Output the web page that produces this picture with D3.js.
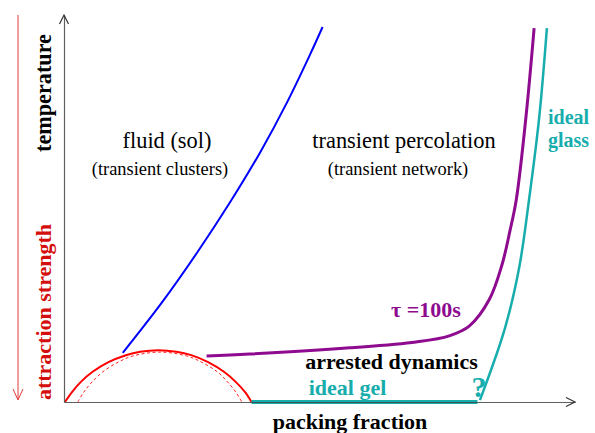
<!DOCTYPE html>
<html>
<head>
<meta charset="utf-8">
<script src="https://cdn.jsdelivr.net/npm/d3@7"></script>
<style>
  html, body { margin: 0; padding: 0; background: #fff; }
</style>
</head>
<body>
<div id="chart"></div>
<script>
// packing fraction (0..1 of the axis) vs temperature (0..1 of the axis)
const solBoundary = [[0.115, 0.127], [0.191, 0.256], [0.260, 0.385], [0.324, 0.514], [0.383, 0.643],
  [0.436, 0.773], [0.483, 0.902], [0.506, 0.969]]
const tau100 = [[0.279, 0.119], [0.363, 0.124], [0.559, 0.140], [0.689, 0.155], [0.754, 0.171], [0.793, 0.196],
  [0.832, 0.264], [0.857, 0.354], [0.873, 0.444], [0.885, 0.522], [0.904, 0.736], [0.920, 0.966]]
const idealGlass = [[0.814, 0.005], [0.863, 0.191], [0.891, 0.349], [0.910, 0.522], [0.930, 0.736], [0.945, 0.966]]
const idealGel = [[0.367, 0], [0.809, 0]]
const binodal = [[0.002, 0], [0.016, 0.026], [0.033, 0.052], [0.056, 0.078], [0.087, 0.103], [0.121, 0.121],
  [0.149, 0.130], [0.185, 0.134], [0.220, 0.130], [0.249, 0.121], [0.282, 0.103], [0.313, 0.078],
  [0.336, 0.052], [0.354, 0.026], [0.367, 0]]
const spinodal = [[0.027, 0], [0.039, 0.026], [0.055, 0.052], [0.076, 0.078], [0.106, 0.103], [0.135, 0.119],
  [0.188, 0.129], [0.240, 0.119], [0.269, 0.103], [0.300, 0.078], [0.320, 0.052], [0.336, 0.026], [0.348, 0]]

const W = 595, H = 433
const teal = '#17adad', purple = '#8e0a8e'
const serif = '"Times New Roman", "Liberation Serif", "Nimbus Roman", "DejaVu Serif", serif'

const svg = d3.select('#chart').append('svg')
  .attr('width', W).attr('height', H)
  .style('display', 'block')

const x = d3.scaleLinear().domain([0, 1]).range([64, 575])
const y = d3.scaleLinear().domain([0, 1]).range([402, 15])

const line = d3.line().x(d => x(d[0])).y(d => y(d[1])).curve(d3.curveCatmullRom.alpha(0.5))

// attraction strength arrow (points down)
svg.append('line')
  .attr('x1', 18).attr('x2', 18).attr('y1', 15).attr('y2', 399)
  .attr('stroke', '#e23a3a').attr('stroke-width', 1)
svg.append('path')
  .attr('d', 'M13,389 L18,400 L23,389')
  .attr('fill', 'none').attr('stroke', '#e23a3a').attr('stroke-width', 1)

// curves
svg.append('path').datum(binodal)
  .attr('d', line).attr('fill', 'none').attr('stroke', '#ff0000').attr('stroke-width', 2)
svg.append('path').datum(spinodal)
  .attr('d', line).attr('fill', 'none').attr('stroke', '#ff2020').attr('stroke-width', 1)
  .attr('stroke-dasharray', '3,2.5')
svg.append('path').datum(solBoundary)
  .attr('d', line).attr('fill', 'none').attr('stroke', '#0000ff').attr('stroke-width', 2)
svg.append('path').datum(tau100)
  .attr('d', line).attr('fill', 'none').attr('stroke', purple).attr('stroke-width', 3)
svg.append('path').datum(idealGlass)
  .attr('d', line).attr('fill', 'none').attr('stroke', teal).attr('stroke-width', 2.5)
svg.append('path').datum(idealGel)
  .attr('d', d3.line().x(d => x(d[0])).y(d => y(d[1])))
  .attr('fill', 'none').attr('stroke', teal).attr('stroke-width', 4)

// axes, no ticks, arrow heads at the ends
svg.append('g')
  .attr('transform', `translate(0,${y(0)})`)
  .call(d3.axisBottom(x).ticks(0).tickSizeOuter(0))
svg.append('g')
  .attr('transform', `translate(${x(0)},0)`)
  .call(d3.axisLeft(y).ticks(0).tickSizeOuter(0))
svg.selectAll('.domain').attr('stroke', '#444').attr('stroke-width', 1.2).attr('stroke-opacity', 0.85)

svg.append('path')
  .attr('d', `M${x(1) - 9},${y(0) - 4.5} L${x(1)},${y(0)} L${x(1) - 9},${y(0) + 4.5}`)
  .attr('fill', 'none').attr('stroke', '#333').attr('stroke-width', 1.2)
svg.append('path')
  .attr('d', `M${x(0) - 4.5},${y(1) + 9} L${x(0)},${y(1)} L${x(0) + 4.5},${y(1) + 9}`)
  .attr('fill', 'none').attr('stroke', '#333').attr('stroke-width', 1.2)

// text labels
const label = (tx, ty, str, opts = {}) => svg.append('text')
  .attr('x', tx).attr('y', ty)
  .attr('font-family', serif)
  .attr('text-anchor', opts.anchor || 'middle')
  .attr('font-size', opts.size || 22)
  .attr('font-weight', opts.bold ? 'bold' : 'normal')
  .attr('fill', opts.color || '#000')
  .attr('transform', opts.rotate ? `rotate(-90,${tx},${ty})` : null)
  .text(str)

label(167, 148, 'fluid (sol)', {size: 22.4})
label(160, 175, '(transient clusters)', {size: 18.4})
label(404, 148, 'transient percolation', {size: 22.4})
label(398, 175, '(transient network)', {size: 18.4})
label(548, 124, 'ideal', {anchor: 'start', bold: true, size: 20, color: teal})
label(548, 147, 'glass', {anchor: 'start', bold: true, size: 20, color: teal})
label(391, 317, 'τ =100s', {anchor: 'start', bold: true, size: 22, color: purple})
label(391.5, 369, 'arrested dynamics', {bold: true, size: 22})
label(347.5, 395, 'ideal gel', {bold: true, size: 22, color: teal})
label(479, 397, '?', {bold: true, size: 30, color: teal})
label(350, 429, 'packing fraction', {bold: true, size: 22})
label(51, 93, 'temperature', {bold: true, size: 22.2, rotate: true})
label(51, 312, 'attraction strength', {bold: true, size: 22, color: '#d40d0d', rotate: true})
</script>
</body>
</html>
